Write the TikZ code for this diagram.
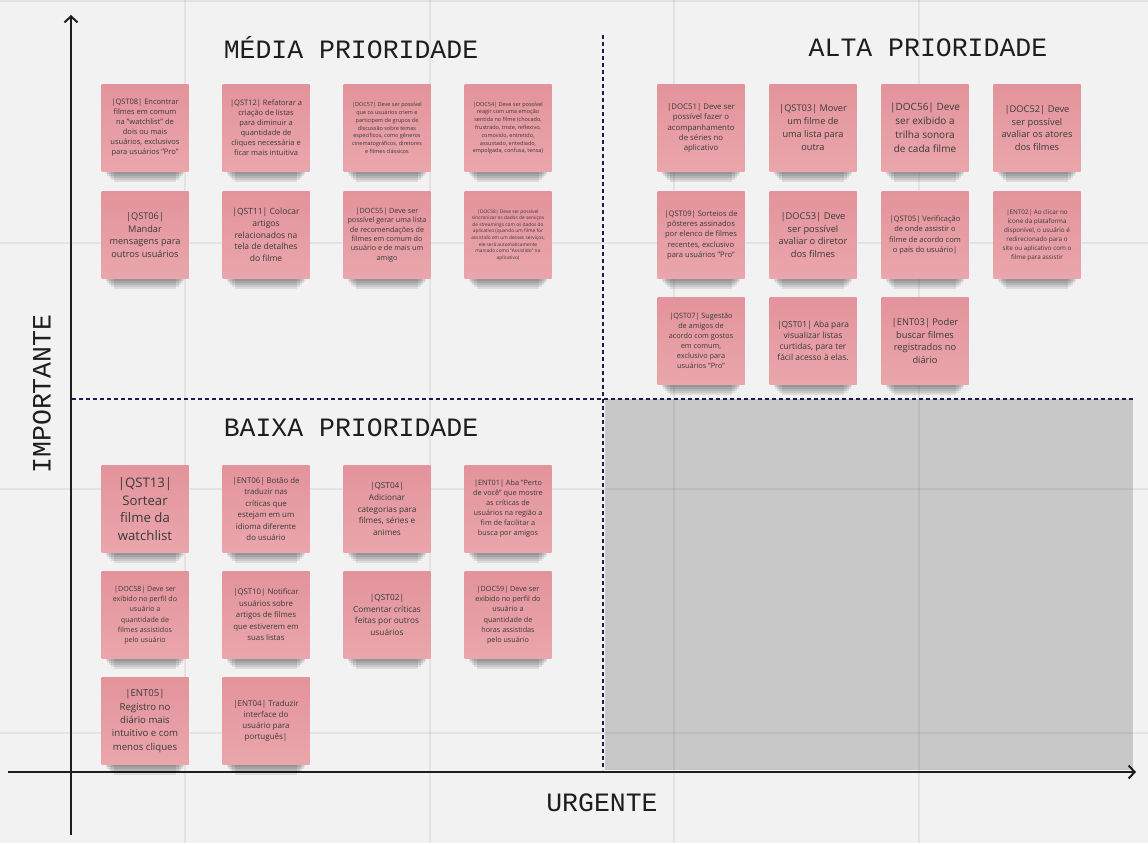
\documentclass[tikz,border=0pt]{standalone}
\usepackage{fontspec}
\setmainfont{Open Sans}
\newfontfamily\axisfont{Liberation Mono}
\usetikzlibrary{arrows.meta}
\definecolor{bgcol}{HTML}{F2F2F2}
\definecolor{lowcol}{HTML}{C8C8C8}
\definecolor{notetop}{HTML}{E3939B}
\definecolor{notebot}{HTML}{EAA6AC}
\definecolor{notetext}{HTML}{3A3A3A}
\definecolor{dashcol}{HTML}{1C1C50}
\definecolor{axiscol}{HTML}{1E1E1E}
\tikzset{
  stickynote/.style={rectangle,minimum width=87pt,minimum height=87pt,inner sep=0pt,
    top color=notetop,bottom color=notebot,text=notetext,align=center},
  quadtitle/.style={font=\axisfont\fontsize{26.5}{30}\selectfont,text=axiscol,inner sep=0pt},
  gridline/.style={black,opacity=.06,line width=2pt},
  divider/.style={dashcol,line width=1.2pt,dash pattern=on 4pt off 3pt},
  axis/.style={axiscol,line width=2.4pt,-{Straight Barb[length=6pt,width=13pt,line width=2pt]}}
}
\newcommand\sticky[5]{%
  \node[stickynote,font=\fontsize{#3}{#4}\selectfont] (#1) at (#2) {#5};
  \foreach \k/\w in {2pt/5pt,4pt/6pt,6pt/8pt,8pt/10pt,10pt/13pt}
    \fill[black,opacity=.09] ([xshift=\w]#1.south west) rectangle ([xshift=-\w,yshift=-\k]#1.south east);}

\begin{document}
\begin{tikzpicture}[x=1pt,y=-1pt]
\useasboundingbox (0,0) rectangle (1148,843);
\fill[bgcol] (0,0) rectangle (1148,843);
\fill[lowcol] (605,399) rectangle (1133,770);
\foreach \gx in {185,430,674,919} \draw[gridline] (\gx,0) -- (\gx,843);
\foreach \gy in {1,243,489,733} \draw[gridline] (0,\gy) -- (1148,\gy);

% quadrants
\coordinate (vtop) at (603,35);
\coordinate (vbot) at (603,770);
\coordinate (hleft) at (72,399);
\coordinate (hright) at (1133,399);
\draw[divider] (vtop) -- (vbot);
\draw[divider] (hleft) -- (hright);

% axes
\coordinate (ybot) at (71,835);
\coordinate (ytop) at (71,15);
\coordinate (xleft) at (8,772);
\coordinate (xright) at (1136,772);
\draw[axis] (ybot) -- (ytop);
\draw[axis] (xleft) -- (xright);

\node[quadtitle] (media) at (351,48) {MÉDIA PRIORIDADE};
\node[quadtitle] (alta) at (928,48) {ALTA PRIORIDADE};
\node[quadtitle] (baixa) at (351,428) {BAIXA PRIORIDADE};
\node[quadtitle] (urgente) at (602,803) {URGENTE};
\node[quadtitle,rotate=90] (importante) at (42,394) {IMPORTANTE};

% media prioridade
\sticky{qst08}{145,128}{7.5}{10}{|QST08| Encontrar\\filmes em comum\\na "watchlist" de\\dois ou mais\\usuários, exclusivos\\para usuários "Pro"}
\sticky{qst12}{266,128}{7.5}{10}{|QST12| Refatorar a\\criação de listas\\para diminuir a\\quantidade de\\cliques necessária e\\ficar mais intuitiva}
\sticky{doc57}{387,128}{5.5}{7.8}{|DOC57| Deve ser possível\\que os usuários criem e\\participem de grupos de\\discussão sobre temas\\específicos, como gêneros\\cinematográficos, diretores\\e filmes clássicos}
\sticky{doc54}{508,128}{5.5}{7.8}{|DOC54| Deve ser possível\\reagir com uma emoção\\sentida no filme (chocado,\\frustrado, triste, reflexivo,\\comovido, entretido,\\assustado, entediado,\\empolgada, confusa, tensa)}
\sticky{qst06}{145,235}{9.2}{12.5}{|QST06|\\Mandar\\mensagens para\\outros usuários}
\sticky{qst11}{266,235}{8.5}{11.6}{|QST11| Colocar\\artigos\\relacionados na\\tela de detalhes\\do filme}
\sticky{doc55}{387,235}{7.2}{9.4}{|DOC55| Deve ser\\possível gerar uma lista\\de recomendações de\\filmes em comum do\\usuário e de mais um\\amigo}
\sticky{doc58a}{508,235}{4.8}{6.6}{|DOC58| Deve ser possível\\sincronizar os dados de serviços\\de streamings com os dados do\\aplicativo (quando um filme for\\assistido em um desses serviços,\\ele será automaticamente\\marcado como "Assistido" no\\aplicativo)}

% alta prioridade
\sticky{doc51}{701,128}{7.8}{10.3}{|DOC51| Deve ser\\possível fazer o\\acompanhamento\\de séries no\\aplicativo}
\sticky{qst03}{813,128}{9.2}{13}{|QST03| Mover\\um filme de\\uma lista para\\outra}
\sticky{doc56}{925,128}{10}{14}{|DOC56| Deve\\ser exibido a\\trilha sonora\\de cada filme}
\sticky{doc52}{1037,128}{9.3}{12.8}{|DOC52| Deve\\ser possível\\avaliar os atores\\dos filmes}
\sticky{qst09}{701,235}{7.6}{10.3}{|QST09| Sorteios de\\pôsteres assinados\\por elenco de filmes\\recentes, exclusivo\\para usuários "Pro"}
\sticky{doc53}{813,235}{9.3}{12.8}{|DOC53| Deve\\ser possível\\avaliar o diretor\\dos filmes}
\sticky{qst05}{925,235}{7.5}{10.5}{|QST05| Verificação\\de onde assistir o\\filme de acordo com\\o país do usuário|}
\sticky{ent02}{1037,235}{6.3}{9}{|ENT02| Ao clicar no\\ícone da plataforma\\disponível, o usuário é\\redirecionado para o\\site ou aplicativo com o\\filme para assistir}
\sticky{qst07}{701,341}{7.3}{10}{|QST07| Sugestão\\de amigos de\\acordo com gostos\\em comum,\\exclusivo para\\usuários "Pro"}
\sticky{qst01}{813,341}{8.4}{11}{|QST01| Aba para\\visualizar listas\\curtidas, para ter\\fácil acesso à elas.}
\sticky{ent03}{925,341}{9.3}{12.5}{|ENT03| Poder\\buscar filmes\\registrados no\\diário}

% baixa prioridade
\sticky{qst13}{145,509}{13.2}{17.5}{|QST13|\\Sortear\\filme da\\watchlist}
\sticky{ent06}{266,509}{7.8}{11.5}{|ENT06| Botão de\\traduzir nas\\críticas que\\estejam em um\\idioma diferente\\do usuário}
\sticky{qst04}{387,509}{8.2}{11.6}{|QST04|\\Adicionar\\categorias para\\filmes, séries e\\animes}
\sticky{ent01}{508,509}{7.3}{10}{|ENT01| Aba "Perto\\de você" que mostre\\as críticas de\\usuários na região a\\fim de facilitar a\\busca por amigos}
\sticky{doc58b}{145,615}{7.1}{10.3}{|DOC58| Deve ser\\exibido no perfil do\\usuário a\\quantidade de\\filmes assistidos\\pelo usuário}
\sticky{qst10}{266,615}{7.8}{11.5}{|QST10| Notificar\\usuários sobre\\artigos de filmes\\que estiverem em\\suas listas}
\sticky{qst02}{387,615}{8.3}{11.6}{|QST02|\\Comentar críticas\\feitas por outros\\usuários}
\sticky{doc59}{508,615}{7.2}{10.3}{|DOC59| Deve ser\\exibido no perfil do\\usuário a\\quantidade de\\horas assistidas\\pelo usuário}
\sticky{ent05}{145,721}{9.6}{13.4}{|ENT05|\\Registro no\\diário mais\\intuitivo e com\\menos cliques}
\sticky{ent04}{266,721}{8}{11}{|ENT04| Traduzir\\interface do\\usuário para\\português|}
\end{tikzpicture}
\end{document}
